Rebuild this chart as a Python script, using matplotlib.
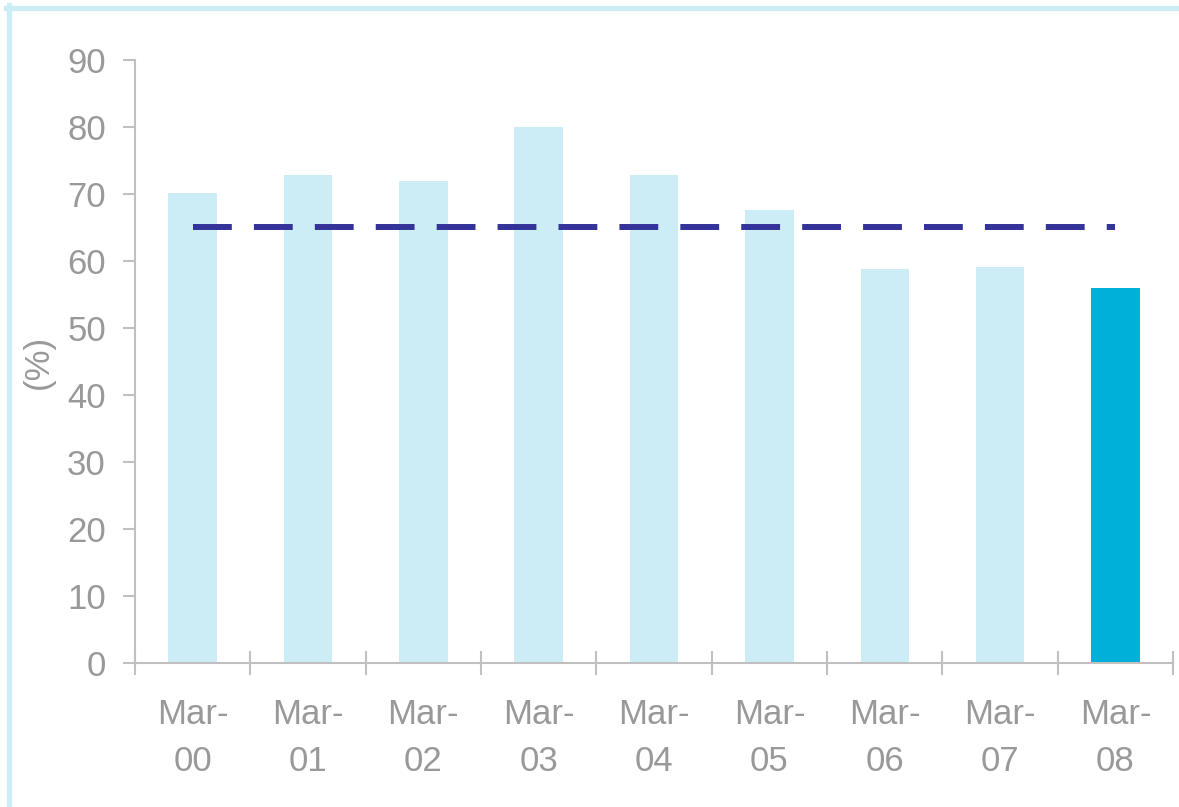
import matplotlib
matplotlib.use('Agg')
import matplotlib.pyplot as plt
from matplotlib.lines import Line2D
from matplotlib.ticker import MultipleLocator

plt.rcParams['font.family'] = ['Liberation Sans', 'DejaVu Sans']

labels = ['Mar-\n00', 'Mar-\n01', 'Mar-\n02', 'Mar-\n03', 'Mar-\n04',
          'Mar-\n05', 'Mar-\n06', 'Mar-\n07', 'Mar-\n08']
values = [70.2, 72.8, 71.9, 80.0, 72.8, 67.6, 58.8, 59.1, 56.0]
average = 65.0

light, strong, navy, grey = '#cdedf6', '#00b0d8', '#333399', '#999999'
colors = [light] * (len(values) - 1) + [strong]

fig = plt.figure(figsize=(11.79, 8.07), dpi=100)
ax = fig.add_axes([0.1145, 0.1784, 0.8805, 0.7473])

x = list(range(len(values)))
ax.bar(x, values, width=0.42, color=colors, zorder=2)
ax.plot([x[0], x[-1]], [average, average], color=navy, lw=4.3,
        dashes=(6.5, 3.7), solid_capstyle='butt', dash_capstyle='butt', zorder=3)

ax.set_xlim(-0.5, len(values) - 0.5)
ax.set_ylim(0, 90)
ax.yaxis.set_major_locator(MultipleLocator(10))

ax.set_xticks(x)
ax.set_xticklabels(labels, linespacing=1.55)
ax.set_xticks([i - 0.5 for i in range(len(values) + 1)], minor=True)
ax.tick_params(axis='x', which='major', length=0, pad=25, labelsize=25, labelcolor=grey)
ax.tick_params(axis='x', which='minor', direction='inout', length=17, width=1.5, color='#c0c0c0')
ax.tick_params(axis='y', direction='out', length=9, width=1.5, color='#c0c0c0',
               pad=12, labelsize=25, labelcolor=grey)

for side in ['top', 'right']:
    ax.spines[side].set_visible(False)
for side in ['left', 'bottom']:
    ax.spines[side].set_color('#c0c0c0')
    ax.spines[side].set_linewidth(1.5)

ax.set_ylabel('(%)', fontsize=25, color=grey)
ax.yaxis.set_label_coords(-0.077, 0.5)

# light frame along the top and left edges
fig.add_artist(Line2D([8.5 / 1179, 8.5 / 1179], [0, 1 - 5 / 807],
                      transform=fig.transFigure, color='#cdedf6', lw=3.8))
fig.add_artist(Line2D([6 / 1179, 1], [1 - 7.5 / 807, 1 - 7.5 / 807],
                      transform=fig.transFigure, color='#cdedf6', lw=3.8))

fig.savefig('out.png', dpi=100)
